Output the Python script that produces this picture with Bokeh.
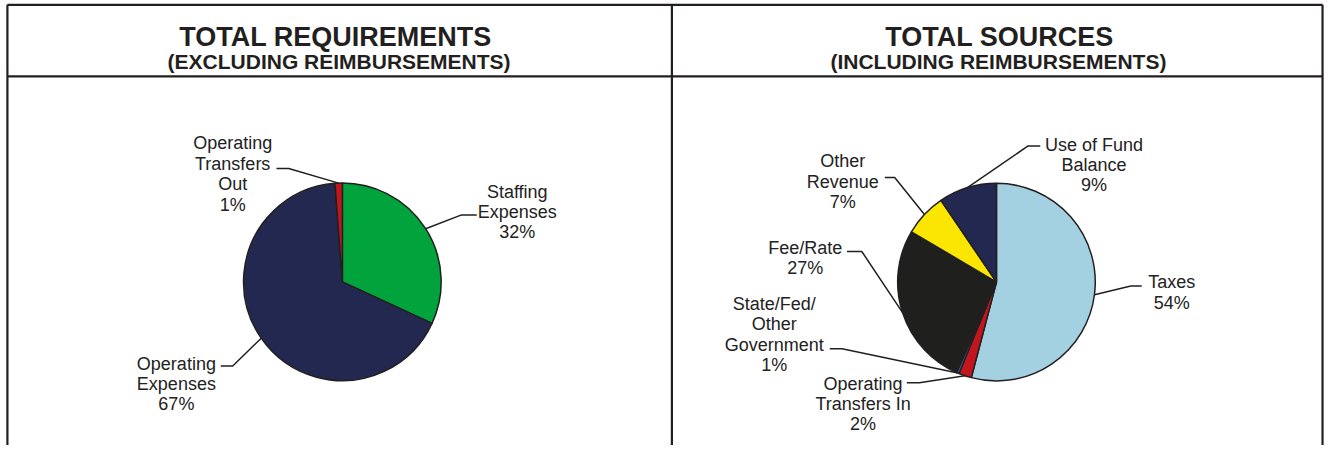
import math
from bokeh.plotting import figure
from bokeh.models import Range1d, ColumnDataSource
from bokeh.core.properties import value
from bokeh.embed import file_html
from bokeh.resources import INLINE

# ---------------- data ----------------
titles = ["TOTAL REQUIREMENTS", "TOTAL SOURCES"]
subtitles = ["(EXCLUDING REIMBURSEMENTS)", "(INCLUDING REIMBURSEMENTS)"]

req_labels = ["Staffing\nExpenses", "Operating\nExpenses", "Operating\nTransfers\nOut"]
req_values = [31.9, 66.9, 1.2]
req_pct = ["32%", "67%", "1%"]
req_colors = ["#00A33C", "#232851", "#C1161D"]

src_labels = ["Taxes", "Operating\nTransfers In", "State/Fed/\nOther\nGovernment",
              "Fee/Rate", "Other\nRevenue", "Use of Fund\nBalance"]
src_values = [54.1, 2.1, 0.4, 26.9, 7.0, 9.5]
src_pct = ["54%", "2%", "1%", "27%", "7%", "9%"]
src_colors = ["#A3D1E1", "#C1161D", "#1C75BC", "#1F1F1E", "#FAE600", "#232851"]

# ---------------- layout (reference pixel coordinates, y measured from top) ----------------
W, H = 1341, 461
PW, PH = 1325, 445
KX, KY = PW / W, PH / H


def Y(v):
    return H - v


INK = "#231F20"
FONT = value("Liberation Sans")

# label layout: (text centre x, first line y, line step, elbow x, elbow y, line end x)
req_layout = [
    (523, 198.5, 20.7, 466, 222.3, 482),
    (178, 376.7, 20.7, 235, 378.7, 223),
    (235, 148.0, 21.2, 291.7, 174.0, 279.3),
]
src_layout = [
    (1185.5, 292.0, 21.0, 1144, 295.7, 1155),
    (873, 397.5, 20.8, 930, 396.0, 917.3),
    (783, 314.0, 21.3, 851.7, 360.7, 839.3),
    (814.5, 256.7, 20.3, 871.7, 260.0, 856.7),
    (852.5, 166.7, 21.2, 905, 183.3, 895),
    (1106.7, 149.7, 20.7, 1040, 150.7, 1052.3),
]

p = figure(width=PW, height=PH, x_range=Range1d(0, W), y_range=Range1d(0, H),
           output_backend="svg", toolbar_location=None, min_border=0,
           x_axis_type=None, y_axis_type=None)
p.outline_line_color = None
p.background_fill_color = "white"
p.border_fill_color = "white"

# frame lines
frame_x = [[7, 1338], [7, 1338], [7, 7], [679.5, 679.5], [1338, 1338]]
frame_y = [[Y(4.5), Y(4.5)], [Y(78.5), Y(78.5)], [Y(4.5), Y(470)], [Y(4.5), Y(470)], [Y(4.5), Y(470)]]
p.multi_line(frame_x, frame_y, line_color=INK, line_width=2.2)

# titles
p.text(x=[339, 1011], y=[Y(38), Y(38)], text=titles, text_font=FONT, text_font_style="bold",
       text_font_size="27px", text_color=INK, text_align="center", text_baseline="middle")
p.text(x=[342.7, 1010], y=[Y(63), Y(63)], text=subtitles, text_font=FONT, text_font_style="bold",
       text_font_size="21px", text_color=INK, text_align="center", text_baseline="middle")


def pie(cx, cy, r, values, colors, labels, pcts, layout):
    total = float(sum(values))
    starts, ends, mids = [], [], []
    cum = 0.0
    for v in values:
        a0 = cum / total
        cum += v
        a1 = cum / total
        starts.append(math.pi / 2 - 2 * math.pi * a0)
        ends.append(math.pi / 2 - 2 * math.pi * a1)
        mids.append(2 * math.pi * (a0 + a1) / 2)
    src = ColumnDataSource(dict(start=starts, end=ends, color=colors))
    p.wedge(x=cx, y=Y(cy), radius=r, start_angle="start", end_angle="end", direction="clock",
            fill_color="color", line_color=INK, line_width=1.5, source=src)

    xs, ys = [], []
    tx, ty, tt = [], [], []
    for m, lab, pc, (lx, ly, step, ex, ey, endx) in zip(mids, labels, pcts, layout):
        px = cx + r * math.sin(m)
        py = Y(cy) + r * math.cos(m) * KX / KY
        xs.append([px, ex, endx])
        ys.append([py, Y(ey), Y(ey)])
        lines = lab.split("\n") + [pc]
        for i, t in enumerate(lines):
            tx.append(lx)
            ty.append(Y(ly + i * step))
            tt.append(t)
    p.multi_line(xs, ys, line_color=INK, line_width=1.5)
    p.text(x=tx, y=ty, text=tt, text_font=FONT, text_font_size="18px", text_color="#222222",
           text_align="center", text_baseline="middle")


pie(346, 291.5, 100, req_values, req_colors, req_labels, req_pct, req_layout)
pie(1008, 291.7, 100, src_values, src_colors, src_labels, src_pct, src_layout)

open("out.html", "w").write(file_html(p, INLINE))
